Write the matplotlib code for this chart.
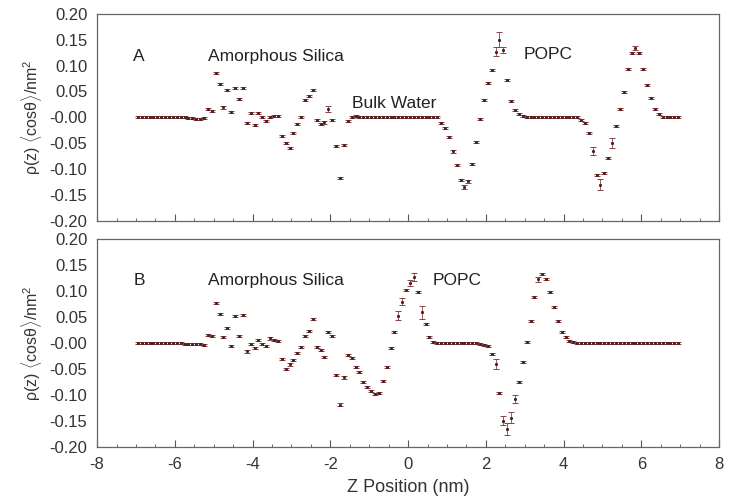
import numpy as np
import matplotlib
matplotlib.use("Agg")
import matplotlib.pyplot as plt

plt.rcParams['font.family'] = ['Liberation Sans', 'DejaVu Sans']
plt.rcParams['axes.unicode_minus'] = False
plt.rcParams['mathtext.fontset'] = 'custom'
plt.rcParams['mathtext.rm'] = 'Liberation Sans'
plt.rcParams['mathtext.it'] = 'Liberation Sans:italic'

# z grid (nm), 0.1 nm bins
z_pos = np.linspace(-6.95, 6.95, 140)

# panel A: silica / water / POPC
rho_a = [
    0, 0, 0, 0, 0, 0, 0, 0, 0, 0,
    0, 0, 0, -0.001, -0.002, -0.003, -0.004, -0.002, 0.016, 0.013,
    0.085, 0.065, 0.019, 0.053, 0.011, 0.056, 0.036, 0.056, -0.011, 0.008,
    -0.014, 0.009, 0.000, -0.007, 0.000, 0.003, 0.003, -0.036, -0.049, -0.060,
    -0.031, -0.013, 0.000, 0.034, 0.042, 0.053, -0.006, -0.013, -0.010, 0.016,
    -0.005, -0.055, -0.118, -0.054, -0.007, 0.000, 0.002, 0.001, 0.000, 0.000,
    0, 0, 0, 0, 0, 0, 0, 0, 0, 0,
    0, 0, 0, 0, 0, 0, 0, 0, -0.011, -0.021,
    -0.038, -0.066, -0.093, -0.121, -0.134, -0.124, -0.090, -0.047, -0.003, 0.034,
    0.066, 0.092, 0.127, 0.150, 0.130, 0.072, 0.031, 0.014, 0.006, 0.002,
    0, 0, 0, 0, 0, 0, 0, 0, 0, 0,
    0, 0, 0, 0, -0.005, -0.011, -0.030, -0.065, -0.111, -0.130,
    -0.108, -0.079, -0.050, -0.016, 0.016, 0.049, 0.093, 0.124, 0.134, 0.124,
    0.093, 0.063, 0.037, 0.016, 0.006, 0.001, 0, 0, 0, 0,
]

# panel B: silica / POPC
rho_b = [
    0, 0, 0, 0, 0, 0, 0, 0, 0, 0,
    0, 0, -0.001, -0.001, -0.002, -0.001, -0.002, -0.003, 0.016, 0.013,
    0.077, 0.056, 0.011, 0.030, -0.005, 0.053, 0.013, 0.054, -0.016, -0.002,
    -0.010, 0.006, -0.002, -0.005, 0.009, 0.006, 0.004, -0.030, -0.050, -0.041,
    -0.032, -0.019, -0.008, 0.014, 0.024, 0.047, -0.008, -0.013, -0.027, 0.021,
    0.013, -0.061, -0.118, -0.066, -0.023, -0.029, -0.046, -0.056, -0.074, -0.084,
    -0.092, -0.098, -0.095, -0.072, -0.046, -0.010, 0.021, 0.053, 0.080, 0.102,
    0.116, 0.127, 0.098, 0.059, 0.037, 0.012, 0.002, 0, 0, 0,
    0, 0, 0, 0, 0, 0, 0, 0, -0.001, -0.003,
    -0.006, -0.021, -0.040, -0.095, -0.149, -0.165, -0.143, -0.107, -0.075, -0.037,
    0.002, 0.043, 0.088, 0.123, 0.133, 0.123, 0.098, 0.069, 0.043, 0.022,
    0.011, 0.005, 0.002, 0, 0, 0, 0, 0, 0, 0,
    0, 0, 0, 0, 0, 0, 0, 0, 0, 0,
    0, 0, 0, 0, 0, 0, 0, 0, 0, 0,
]

# error bars: small everywhere, larger where the picture shows it
err_base = 0.002
err_a_big = {-2.05: 0.005, 1.45: 0.004, 2.25: 0.008, 2.35: 0.015, 2.45: 0.006,
             4.75: 0.008, 4.95: 0.010, 5.25: 0.010, 5.85: 0.004}
err_b_big = {-0.25: 0.008, -0.15: 0.006, 0.05: 0.006, 0.15: 0.008, 0.35: 0.012,
             2.25: 0.010, 2.45: 0.008, 2.55: 0.012, 2.65: 0.010, 2.75: 0.008,
             3.35: 0.005}

panel_labels = ["A", "B"]
region_labels = [
    [("Amorphous Silica", -5.14, 0.117), ("Bulk Water", -1.44, 0.026), ("POPC", 2.96, 0.121)],
    [("Amorphous Silica", -5.14, 0.120), ("POPC", 0.64, 0.120)],
]

def errs(big):
    return [big.get(round(z, 2), err_base) for z in z_pos]

fig = plt.figure(figsize=(7.3, 5.03), dpi=100)
ax_a = fig.add_axes([0.133, 0.561, 0.852, 0.4115])
ax_b = fig.add_axes([0.133, 0.111, 0.852, 0.4135])

col = '#8a4040'
for ax, rho, big, lab, regs in zip([ax_a, ax_b], [rho_a, rho_b], [err_a_big, err_b_big],
                                   panel_labels, region_labels):
    ax.errorbar(z_pos, rho, yerr=errs(big), fmt='s', ms=1.1, color='#4a2020', mec='#4a2020',
                ecolor=col, elinewidth=0.6, capsize=1.9, capthick=0.7)
    ax.set_xlim(-8, 8)
    ax.set_ylim(-0.2, 0.2)
    ax.set_yticks(np.arange(-0.2, 0.201, 0.05))
    ax.set_yticklabels([f"{v:.2f}" for v in np.arange(-0.2, 0.201, 0.05)])
    ax.set_xticks(np.arange(-8, 9, 2))
    ax.set_xticks(np.arange(-8, 8.01, 0.5), minor=True)
    ax.tick_params(axis='x', which='major', direction='in', length=5, color='#555555',
                   labelsize=12, labelcolor='#333333', pad=7)
    ax.tick_params(axis='x', which='minor', direction='in', length=2.5, color='#555555')
    ax.tick_params(axis='y', length=0, labelsize=12, labelcolor='#333333', pad=7)
    for s in ax.spines.values():
        s.set_color('#666666')
        s.set_linewidth(0.9)
    ax.set_ylabel(r'$\mathrm{\rho(z)\ \langle cos\theta\rangle/nm^2}$', fontsize=11.5,
                  color='#333333', labelpad=4)
    ax.text(-7.07, regs[0][2], lab, fontsize=12.5, color='#222222', va='center')
    for txt, x0, y0 in regs:
        ax.text(x0, y0, txt, fontsize=12.5, color='#222222', va='center')

ax_a.tick_params(axis='x', labelbottom=False)
ax_b.set_xlabel('Z Position (nm)', fontsize=13, color='#333333', labelpad=5)

fig.savefig('out.png', dpi=100)
